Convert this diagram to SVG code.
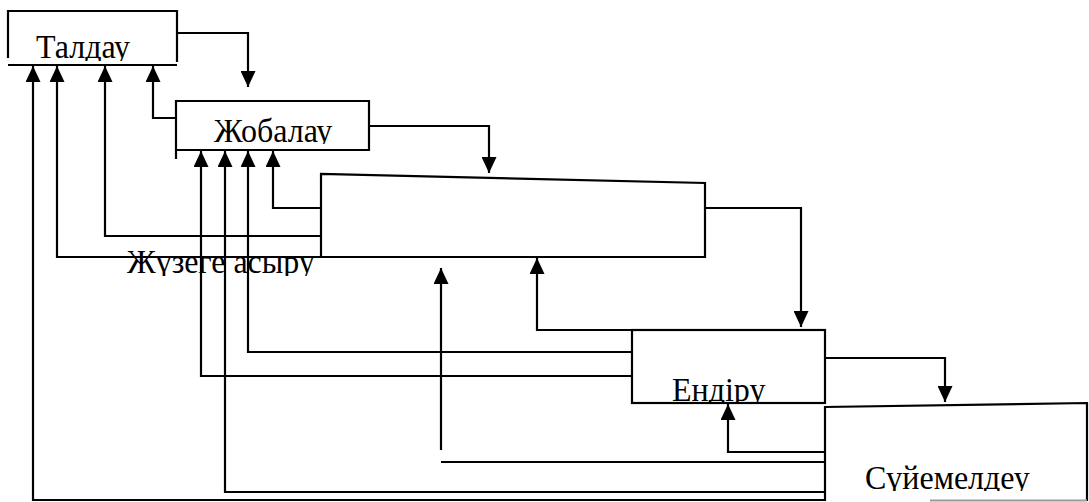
<svg xmlns="http://www.w3.org/2000/svg" width="1089" height="502" viewBox="0 0 1089 502">
<style>
.ln{fill:none;stroke:#000;stroke-width:2.2}
.lbl{font-family:"Liberation Serif","Times New Roman",serif;font-size:32px;fill:#000}
</style>
<defs>
<marker id="ah" viewBox="0 0 16 15" refX="16" refY="7.5" markerWidth="16" markerHeight="15" markerUnits="userSpaceOnUse" orient="auto">
<path d="M0,0 L16,7.5 L0,15 z" fill="#000"/>
</marker>
<clipPath id="c1"><rect x="0" y="0" width="300" height="61"/></clipPath>
<clipPath id="c2"><rect x="150" y="100" width="300" height="44"/></clipPath>
<clipPath id="c3"><rect x="100" y="230" width="300" height="46"/></clipPath>
<clipPath id="c4"><rect x="640" y="360" width="200" height="43"/></clipPath>
<clipPath id="c5"><rect x="840" y="440" width="240" height="51"/></clipPath>
</defs>
<rect width="1089" height="502" fill="#fff"/>
<g id="connectors">
<path class="ln" d="M177 33 H248 V87" marker-end="url(#ah)"/>
<path class="ln" d="M369 126 H489 V173" marker-end="url(#ah)"/>
<path class="ln" d="M705 208 H801 V327" marker-end="url(#ah)"/>
<path class="ln" d="M825 358 H945 V402" marker-end="url(#ah)"/>
<path class="ln" d="M825 500 H33 V66" marker-end="url(#ah)"/>
<path class="ln" d="M321 257 H57 V66" marker-end="url(#ah)"/>
<path class="ln" d="M321 236 H105 V66" marker-end="url(#ah)"/>
<path class="ln" d="M176 118 H153 V66" marker-end="url(#ah)"/>
<path class="ln" d="M632 376 H201 V151" marker-end="url(#ah)"/>
<path class="ln" d="M825 492 H225 V151" marker-end="url(#ah)"/>
<path class="ln" d="M632 352 H248 V151" marker-end="url(#ah)"/>
<path class="ln" d="M321 208 H273 V151" marker-end="url(#ah)"/>
<path class="ln" d="M441 450 V268" marker-end="url(#ah)"/>
<path class="ln" d="M441 462 H825"/>
<path class="ln" d="M632 330 H537 V258" marker-end="url(#ah)"/>
<path class="ln" d="M825 452 H728 V404" marker-end="url(#ah)"/>
</g>
<g id="node-taldau">
<path class="ln" d="M8 58 V11 H177 V62"/>
<path class="ln" d="M8 65 H177"/>
<g clip-path="url(#c1)"><text class="lbl" transform="translate(36,58) scale(1,1.08)">Талдау</text></g>
</g>
<g id="node-zhobalau">
<path class="ln" d="M176 159 V101 H369 V150 H176"/>
<g clip-path="url(#c2)"><text class="lbl" transform="translate(214,142) scale(1,1.08)">Жобалау</text></g>
</g>
<g id="node-zhuzege">
<path class="ln" d="M321 257 V174 L705 183 V257 Z"/>
<g clip-path="url(#c3)"><text class="lbl" transform="translate(127,273) scale(1,1.08)">Жүзеге асыру</text></g>
</g>
<g id="node-endiru">
<rect class="ln" x="632" y="330" width="193" height="73"/>
<g clip-path="url(#c4)"><text class="lbl" transform="translate(672,401) scale(1,1.08)">Ендіру</text></g>
</g>
<g id="node-suiemeldeu">
<path class="ln" d="M825 501 V407 L1087 403 V501"/>
<path d="M930 500.5 H1087" stroke="#999" stroke-width="2"/>
<g clip-path="url(#c5)"><text class="lbl" transform="translate(865,489) scale(1,1.08)">Сүйемелдеу</text></g>
</g>
</svg>
